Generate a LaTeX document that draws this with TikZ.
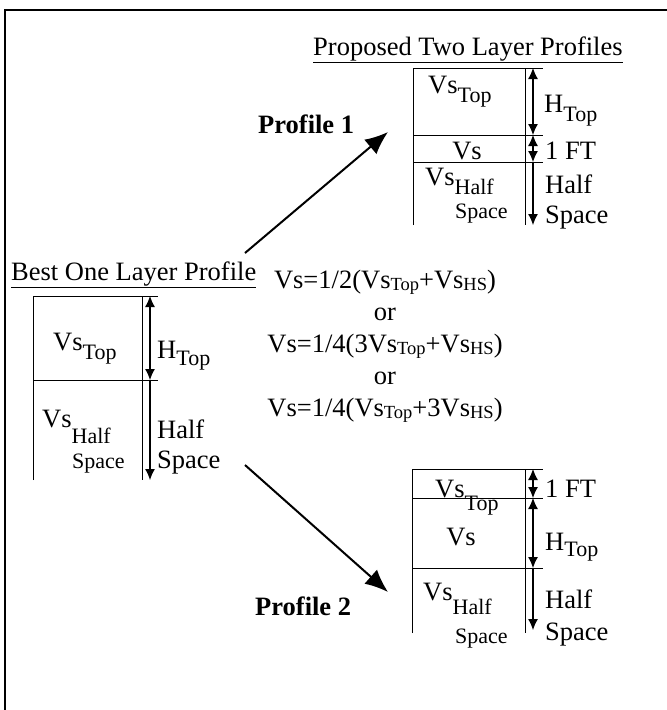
\documentclass[tikz,border=0pt]{standalone}
\usepackage{fontspec}
\setmainfont{Liberation Serif}
\usepackage{tikz}
\usetikzlibrary{arrows.meta, positioning}
\tikzstyle{lbl} = [inner sep=0pt, anchor=base west, font=\fontsize{26.5}{30}\selectfont]
\tikzstyle{mid} = [lbl, anchor=base]
\tikzstyle{small} = [lbl, font=\fontsize{22}{24}\selectfont]
\tikzstyle{bold} = [lbl, font=\fontsize{26.5}{30}\selectfont\bfseries]
\tikzstyle{frame} = [line width=1.1pt]
\tikzstyle{layer} = [line width=1pt]
\tikzstyle{dim} = [line width=1.1pt, {Latex[length=11pt,width=10pt]}-{Latex[length=11pt,width=10pt]}]
\tikzstyle{dimdown} = [line width=1.1pt, -{Latex[length=11pt,width=10pt]}]
\tikzstyle{arrow} = [line width=2pt, -{Latex[length=23pt,width=19pt]}]
\newcommand{\lowsub}[2][9pt]{\raisebox{-#1}{\fontsize{22}{22}\selectfont #2}}
\newcommand{\fsub}[1]{\raisebox{-2pt}{\fontsize{18.5}{18.5}\selectfont #1}}

\begin{document}
\begin{tikzpicture}[x=1pt, y=-1pt]
    \useasboundingbox (0,0) rectangle (667,710);
    \draw [frame] (5,710) -- (5,10) -- (667,10);

    % one layer profile
    \node (best) [lbl] at (11,280) {\underline{Best One Layer Profile}};
    \draw [layer] (33,480) -- (33,296) -- (158,296);
    \draw [layer] (33,380) -- (158,380);
    \draw [layer] (142,296) -- (142,480);
    \coordinate (l0) at (150,296);
    \coordinate (l1) at (150,380);
    \coordinate (l2) at (150,480);
    \draw [dim] (l0) -- (l1);
    \draw [dimdown] (l1) -- (l2);
    \node (lvstop) [lbl] at (53,350) {Vs\lowsub{Top}};
    \node (lhtop) [lbl] at (157,358) {H\lowsub[7pt]{Top}};
    \node (lvshalf) [lbl] at (42,427) {Vs\lowsub[16pt]{Half}};
    \node (lvsspace) [small] at (72,468) {Space};
    \node (lhalf) [lbl] at (157,438) {Half};
    \node (lspace) [lbl] at (157,468) {Space};

    % relations
    \node (f1) [mid] at (385,288) {Vs=1/2(Vs\fsub{Top}+Vs\fsub{HS})};
    \node (or1) [mid] at (385,320) {or};
    \node (f2) [mid] at (385,352) {Vs=1/4(3Vs\fsub{Top}+Vs\fsub{HS})};
    \node (or2) [mid] at (385,384) {or};
    \node (f3) [mid] at (385,416) {Vs=1/4(Vs\fsub{Top}+3Vs\fsub{HS})};

    % arrows to the two layer profiles
    \node (p1) [bold] at (258,133) {Profile 1};
    \node (p2) [bold] at (255,615) {Profile 2};
    \coordinate (a1s) at (245,253);
    \coordinate (a1e) at (388,132);
    \coordinate (a2s) at (245,465);
    \coordinate (a2e) at (388,592);
    \draw [arrow] (a1s) -- (a1e);
    \draw [arrow] (a2s) -- (a2e);

    % profile 1
    \node (prop) [lbl] at (313,55) {\underline{Proposed Two Layer Profiles}};
    \draw [layer] (413,225) -- (413,68) -- (543,68);
    \draw [layer] (413,135) -- (543,135);
    \draw [layer] (413,162) -- (543,162);
    \draw [layer] (525,68) -- (525,225);
    \coordinate (t0) at (533,68);
    \coordinate (t1) at (533,135);
    \coordinate (t2) at (533,162);
    \coordinate (t3) at (533,225);
    \draw [dim] (t0) -- (t1);
    \draw [dim] (t1) -- (t2);
    \draw [dimdown] (t2) -- (t3);
    \node (tvstop) [lbl] at (428,93) {Vs\lowsub{Top}};
    \node (thtop) [lbl] at (544,112) {H\lowsub{Top}};
    \node (tvs) [mid] at (467,159) {Vs};
    \node (tft) [lbl] at (545,159) {1 FT};
    \node (tvshalf) [lbl] at (425,185) {Vs\lowsub{Half}};
    \node (tvsspace) [small] at (455,218) {Space};
    \node (thalf) [lbl] at (545,193) {Half};
    \node (tspace) [lbl] at (545,223) {Space};

    % profile 2
    \draw [layer] (412,633) -- (412,469) -- (543,469);
    \draw [layer] (412,498) -- (543,498);
    \draw [layer] (412,568) -- (543,568);
    \draw [layer] (525,469) -- (525,633);
    \coordinate (b0) at (533,469);
    \coordinate (b1) at (533,498);
    \coordinate (b2) at (533,568);
    \coordinate (b3) at (533,630);
    \draw [dim] (b0) -- (b1);
    \draw [dim] (b1) -- (b2);
    \draw [dimdown] (b2) -- (b3);
    \node (bvstop) [lbl] at (435,497) {Vs\lowsub[13pt]{Top}};
    \node (bft) [lbl] at (545,497) {1 FT};
    \node (bvs) [mid] at (461,545) {Vs};
    \node (bhtop) [lbl] at (545,550) {H\lowsub[6pt]{Top}};
    \node (bvshalf) [lbl] at (423,600) {Vs\lowsub[14pt]{Half}};
    \node (bvsspace) [small] at (455,643) {Space};
    \node (bhalf) [lbl] at (545,608) {Half};
    \node (bspace) [lbl] at (545,640) {Space};
\end{tikzpicture}
\end{document}
